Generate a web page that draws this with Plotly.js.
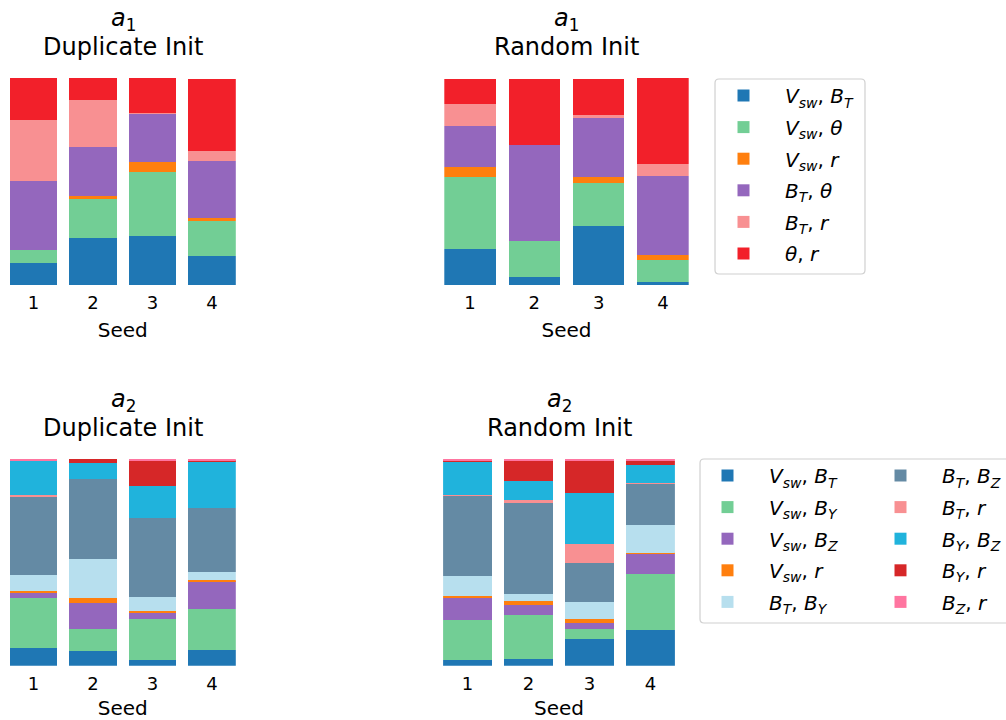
<!DOCTYPE html>
<html>
<head>
<meta charset="utf-8">
<script src="https://cdn.plot.ly/plotly-3.0.1.min.js"></script>
<style>html,body{margin:0;padding:0;background:#fff;}</style>
</head>
<body>
<div id="chart" style="width:1006px;height:720px;"></div>
<script>
// ---- data ----
const seeds = [1, 2, 3, 4];
const seedTickText = ['1', '2', '3', '4'];

const a1Labels = [
  '<i>V</i><sub><i>sw</i></sub>, <i>B</i><sub><i>T</i></sub>',
  '<i>V</i><sub><i>sw</i></sub>, <i>θ</i>',
  '<i>V</i><sub><i>sw</i></sub>, <i>r</i>',
  '<i>B</i><sub><i>T</i></sub>, <i>θ</i>',
  '<i>B</i><sub><i>T</i></sub>, <i>r</i>',
  '<i>θ</i>, <i>r</i>'
];
const a1Colors = ['#1f77b4', '#72ce95', '#ff7f0e', '#9467bd', '#f89092', '#f2202a'];

// a1, Duplicate Init (rows follow a1Labels, columns follow seeds)
const a1DupVswBT  = [0.108, 0.229, 0.238, 0.142];
const a1DupVswTh  = [0.061, 0.187, 0.309, 0.167];
const a1DupVswR   = [0.000, 0.016, 0.048, 0.016];
const a1DupBTTh   = [0.335, 0.235, 0.232, 0.275];
const a1DupBTR    = [0.293, 0.227, 0.005, 0.048];
const a1DupThR    = [0.203, 0.106, 0.167, 0.346];

// a1, Random Init
const a1RandVswBT = [0.174, 0.039, 0.285, 0.014];
const a1RandVswTh = [0.348, 0.174, 0.208, 0.106];
const a1RandVswR  = [0.048, 0.000, 0.029, 0.024];
const a1RandBTTh  = [0.198, 0.464, 0.285, 0.382];
const a1RandBTR   = [0.106, 0.000, 0.014, 0.058];
const a1RandThR   = [0.121, 0.319, 0.174, 0.415];

const a2Labels = [
  '<i>V</i><sub><i>sw</i></sub>, <i>B</i><sub><i>T</i></sub>',
  '<i>V</i><sub><i>sw</i></sub>, <i>B</i><sub><i>Y</i></sub>',
  '<i>V</i><sub><i>sw</i></sub>, <i>B</i><sub><i>Z</i></sub>',
  '<i>V</i><sub><i>sw</i></sub>, <i>r</i>',
  '<i>B</i><sub><i>T</i></sub>, <i>B</i><sub><i>Y</i></sub>',
  '<i>B</i><sub><i>T</i></sub>, <i>B</i><sub><i>Z</i></sub>',
  '<i>B</i><sub><i>T</i></sub>, <i>r</i>',
  '<i>B</i><sub><i>Y</i></sub>, <i>B</i><sub><i>Z</i></sub>',
  '<i>B</i><sub><i>Y</i></sub>, <i>r</i>',
  '<i>B</i><sub><i>Z</i></sub>, <i>r</i>'
];
const a2Colors = ['#1f77b4', '#72ce95', '#9467bd', '#ff7f0e', '#b7dfee',
                  '#648aa4', '#f89092', '#20b3dc', '#d62728', '#ff75a0'];

// a2, Duplicate Init
const a2DupVswBT = [0.085, 0.071, 0.027, 0.076];
const a2DupVswBY = [0.242, 0.106, 0.198, 0.198];
const a2DupVswBZ = [0.029, 0.126, 0.034, 0.135];
const a2DupVswR  = [0.005, 0.024, 0.005, 0.005];
const a2DupBTBY  = [0.077, 0.189, 0.068, 0.039];
const a2DupBTBZ  = [0.382, 0.387, 0.382, 0.310];
const a2DupBTR   = [0.005, 0.000, 0.000, 0.000];
const a2DupBYBZ  = [0.169, 0.077, 0.155, 0.227];
const a2DupBYR   = [0.000, 0.019, 0.126, 0.005];
const a2DupBZR   = [0.005, 0.000, 0.005, 0.005];

// a2, Random Init
const a2RandVswBT = [0.029, 0.034, 0.130, 0.174];
const a2RandVswBY = [0.193, 0.213, 0.048, 0.271];
const a2RandVswBZ = [0.106, 0.048, 0.029, 0.097];
const a2RandVswR  = [0.010, 0.019, 0.019, 0.005];
const a2RandBTBY  = [0.097, 0.034, 0.082, 0.135];
const a2RandBTBZ  = [0.386, 0.440, 0.188, 0.198];
const a2RandBTR   = [0.005, 0.014, 0.092, 0.005];
const a2RandBYBZ  = [0.164, 0.092, 0.246, 0.087];
const a2RandBYR   = [0.005, 0.097, 0.155, 0.019];
const a2RandBZR   = [0.005, 0.010, 0.010, 0.010];

// ---- build ----
const W = 1006, H = 720;
const FONT = 'DejaVu Sans, Verdana, sans-serif';
const px = p => p / W;
const py = p => 1 - p / H;

const panels = [
  {series: [a1DupVswBT, a1DupVswTh, a1DupVswR, a1DupBTTh, a1DupBTR, a1DupThR],
   labels: a1Labels, colors: a1Colors, xa: 'x', ya: 'y', legendFor: null, grp: 'a1'},
  {series: [a1RandVswBT, a1RandVswTh, a1RandVswR, a1RandBTTh, a1RandBTR, a1RandThR],
   labels: a1Labels, colors: a1Colors, xa: 'x2', ya: 'y2', legendFor: i => 'legend', grp: 'a1'},
  {series: [a2DupVswBT, a2DupVswBY, a2DupVswBZ, a2DupVswR, a2DupBTBY, a2DupBTBZ, a2DupBTR, a2DupBYBZ, a2DupBYR, a2DupBZR],
   labels: a2Labels, colors: a2Colors, xa: 'x3', ya: 'y3', legendFor: null, grp: 'a2'},
  {series: [a2RandVswBT, a2RandVswBY, a2RandVswBZ, a2RandVswR, a2RandBTBY, a2RandBTBZ, a2RandBTR, a2RandBYBZ, a2RandBYR, a2RandBZR],
   labels: a2Labels, colors: a2Colors, xa: 'x4', ya: 'y4', legendFor: i => (i < 5 ? 'legend2' : 'legend3'), grp: 'a2'}
];

const traces = [];
panels.forEach(p => {
  p.series.forEach((vals, i) => {
    const t = {
      type: 'bar', x: seeds, y: vals, name: p.labels[i],
      marker: {color: p.colors[i], line: {width: 0}},
      xaxis: p.xa, yaxis: p.ya,
      legendgroup: p.grp + '_' + i,
      showlegend: !!p.legendFor,
      hovertemplate: 'Seed %{x}: %{y:.3f}<extra></extra>'
    };
    if (p.legendFor) t.legend = p.legendFor(i);
    traces.push(t);
  });
});

const xCommon = {
  range: [0.6, 4.4], tickvals: seeds, ticktext: seedTickText,
  showgrid: false, zeroline: false, showline: false, ticks: '',
  ticklabelstandoff: 5,
  tickfont: {size: 18, family: FONT, color: '#000'},
  title: {text: 'Seed', font: {size: 20, family: FONT, color: '#000'}, standoff: 10},
  fixedrange: true
};
const yCommon = {
  range: [0, 1], showgrid: false, zeroline: false, showline: false,
  showticklabels: false, ticks: '', fixedrange: true
};

const xd1 = [px(9.7), px(235.8)], xd2 = [px(444.3), px(688.7)];
const xd3 = [px(9.7), px(235.8)], xd4 = [px(443.1), px(674.9)];
const ydTop = [py(285), py(78)], ydBot = [py(665.7), py(459)];

function roundedRect(x0, y0, x1, y1, r) {
  // pixel coords -> paper path
  const X = v => px(v).toFixed(5), Y = v => py(v).toFixed(5);
  return 'M' + X(x0 + r) + ',' + Y(y0) +
    ' L' + X(x1 - r) + ',' + Y(y0) + ' Q' + X(x1) + ',' + Y(y0) + ' ' + X(x1) + ',' + Y(y0 + r) +
    ' L' + X(x1) + ',' + Y(y1 - r) + ' Q' + X(x1) + ',' + Y(y1) + ' ' + X(x1 - r) + ',' + Y(y1) +
    ' L' + X(x0 + r) + ',' + Y(y1) + ' Q' + X(x0) + ',' + Y(y1) + ' ' + X(x0) + ',' + Y(y1 - r) +
    ' L' + X(x0) + ',' + Y(y0 + r) + ' Q' + X(x0) + ',' + Y(y0) + ' ' + X(x0 + r) + ',' + Y(y0) + ' Z';
}

const legendCommon = {
  bgcolor: 'rgba(0,0,0,0)', borderwidth: 0, orientation: 'v',
  font: {size: 20, family: FONT, color: '#000'},
  traceorder: 'grouped', tracegroupgap: 2.6, itemwidth: 73,
  xanchor: 'left', yanchor: 'top', itemclick: false, itemdoubleclick: false
};

function titleAnn(xc, yc, text) {
  return {xref: 'paper', yref: 'paper', x: px(xc), y: py(yc), xanchor: 'center', yanchor: 'middle',
          showarrow: false, text: text, font: {size: 24, family: FONT, color: '#000'}};
}

const layout = {
  width: W, height: H,
  margin: {l: 0, r: 0, t: 0, b: 0, pad: 0, autoexpand: false},
  paper_bgcolor: '#fff', plot_bgcolor: '#fff',
  font: {family: FONT, color: '#000'},
  barmode: 'stack', bargap: 0.2,
  xaxis:  Object.assign({}, xCommon, {domain: xd1, anchor: 'y'}),
  xaxis2: Object.assign({}, xCommon, {domain: xd2, anchor: 'y2'}),
  xaxis3: Object.assign({}, xCommon, {domain: xd3, anchor: 'y3'}),
  xaxis4: Object.assign({}, xCommon, {domain: xd4, anchor: 'y4'}),
  yaxis:  Object.assign({}, yCommon, {domain: ydTop, anchor: 'x'}),
  yaxis2: Object.assign({}, yCommon, {domain: ydTop, anchor: 'x2'}),
  yaxis3: Object.assign({}, yCommon, {domain: ydBot, anchor: 'x3'}),
  yaxis4: Object.assign({}, yCommon, {domain: ydBot, anchor: 'x4'}),
  legend:  Object.assign({}, legendCommon, {x: px(702), y: py(76)}),
  legend2: Object.assign({}, legendCommon, {x: px(686), y: py(456)}),
  legend3: Object.assign({}, legendCommon, {x: px(859), y: py(456)}),
  shapes: [
    {type: 'path', xref: 'paper', yref: 'paper', path: roundedRect(715, 79, 865, 274, 4),
     line: {color: '#d0d0d0', width: 1.2}, fillcolor: 'rgba(255,255,255,0.8)', layer: 'below'},
    {type: 'path', xref: 'paper', yref: 'paper', path: roundedRect(700, 459, 1012, 623, 4),
     line: {color: '#d0d0d0', width: 1.2}, fillcolor: 'rgba(255,255,255,0.8)', layer: 'below'}
  ],
  annotations: [
    titleAnn(123, 19, '<i>a</i><sub>1</sub>'),
    titleAnn(123, 47, 'Duplicate Init'),
    titleAnn(566.5, 19, '<i>a</i><sub>1</sub>'),
    titleAnn(566.5, 47, 'Random Init'),
    titleAnn(123, 400, '<i>a</i><sub>2</sub>'),
    titleAnn(123, 428, 'Duplicate Init'),
    titleAnn(559, 400, '<i>a</i><sub>2</sub>'),
    titleAnn(559, 428, 'Random Init')
  ],
  showlegend: true
};

Plotly.newPlot('chart', traces, layout, {displayModeBar: false, staticPlot: false});
</script>
</body>
</html>
